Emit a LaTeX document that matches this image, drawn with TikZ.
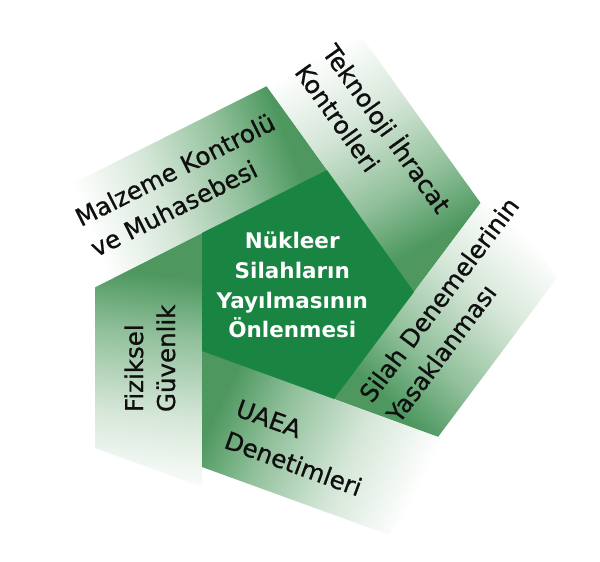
\documentclass[tikz,border=0pt]{standalone}
\usepackage{fontspec}
\setmainfont{DejaVu Sans}
\newfontfamily\bladefont[FakeBold=0.8]{DejaVu Sans}
\definecolor{pentg}{RGB}{26,133,66}
\definecolor{bladeg}{RGB}{78,152,96}
\definecolor{bladem}{RGB}{145,192,155}
\definecolor{bladel}{RGB}{212,230,215}
\definecolor{txt}{RGB}{15,15,15}
\pgfdeclarehorizontalshading{bladefade}{100bp}{color(0bp)=(bladeg); color(34bp)=(bladeg); color(44bp)=(bladem); color(57bp)=(bladel); color(70bp)=(white); color(100bp)=(white)}
\begin{document}
\begin{tikzpicture}[x=1pt,y=-1pt,
  bladetext/.style={font=\bladefont\fontsize{24.5}{30}\selectfont, text=txt, anchor=base west, inner sep=0pt, outer sep=0pt},
  ctrtext/.style={font=\bfseries\fontsize{21.5}{26}\selectfont, text=white, anchor=base, inner sep=0pt, outer sep=0pt},
  fadefill/.style={shading=bladefade}]
\useasboundingbox (0,0) rectangle (600,562);
\fill[white] (0,0) rectangle (600,562);
% pentagon vertices
\coordinate (V1) at (202,233);
\coordinate (V2) at (327,170);
\coordinate (V3) at (414,292);
\coordinate (V4) at (334,399);
\coordinate (V5) at (202,351);
\coordinate (C) at (296,289);
% blade corners
\coordinate (Fa) at (95,287);   \coordinate (Fb) at (202,487); \coordinate (Fc) at (95,448);
\coordinate (Ma) at (267,86);   \coordinate (Mb) at (60,190);  \coordinate (Mc) at (60,305);
\coordinate (Ta) at (480.6,203);\coordinate (Tb) at (351,22);  \coordinate (Tc) at (255,70);
\coordinate (Sa) at (438,437);  \coordinate (Sb) at (557,278); \coordinate (Sc) at (492.6,187);
\coordinate (Ua) at (202,467);  \coordinate (Ub) at (388.8,534.8); \coordinate (Uc) at (456.8,443.8);
% Fiziksel blade
\begin{scope}
\clip (Fa) -- (V1) -- (C) -- (V5) -- (Fb) -- (Fc) -- cycle;
\begin{scope}[transform canvas={shift={(148.5,260)},rotate=-96}]
\shade[fadefill] (-40,-220) rectangle (260,220);
\end{scope}
\end{scope}
% Malzeme blade
\begin{scope}
\clip (V2) -- (Ma) -- (Mb) -- (Mc) -- (V1) -- (C) -- cycle;
\begin{scope}[transform canvas={shift={(297,128)},rotate=-159.3}]
\shade[fadefill] (-40,-220) rectangle (260,220);
\end{scope}
\end{scope}
% Teknoloji blade
\begin{scope}
\clip (V3) -- (Ta) -- (Tb) -- (Tc) -- (V2) -- (C) -- cycle;
\begin{scope}[transform canvas={shift={(447.3,247.5)},rotate=119.5}]
\shade[fadefill] (-40,-220) rectangle (260,220);
\end{scope}
\end{scope}
% Silah blade
\begin{scope}
\clip (V4) -- (Sa) -- (Sb) -- (Sc) -- (V3) -- (C) -- cycle;
\begin{scope}[transform canvas={shift={(386,418)},rotate=47.2}]
\shade[fadefill] (-40,-220) rectangle (260,220);
\end{scope}
\end{scope}
% UAEA blade
\begin{scope}
\clip (V5) -- (Ua) -- (Ub) -- (Uc) -- (V4) -- (C) -- cycle;
\begin{scope}[transform canvas={shift={(202,409)},rotate=-26}]
\shade[fadefill] (-40,-220) rectangle (260,220);
\end{scope}
\end{scope}
% central pentagon
\fill[pentg] (V1) -- (V2) -- (V3) -- (V4) -- (V5) -- cycle;
% texts
\node[ctrtext] (c1) at (292.3,248) {Nükleer};
\node[ctrtext] (c2) at (292.3,278) {Silahların};
\node[ctrtext] (c3) at (292.3,308) {Yayılmasının};
\node[ctrtext] (c4) at (292.3,337) {Önlenmesi};
\node[bladetext, rotate=26.7] (m1) at (81,227) {Malzeme Kontrolü};
\node[bladetext, rotate=26.7] (m2) at (96.3,257.4) {ve Muhasebesi};
\node[bladetext, rotate=-54.5] (t1) at (321.5,52.5) {Teknoloji İhracat};
\node[bladetext, rotate=-54.5] (t2) at (293.8,72.3) {Kontrolleri};
\node[bladetext, rotate=53.2] (s1) at (372,404) {Silah Denemelerinin};
\node[bladetext, rotate=53.2] (s2) at (399.2,424.4) {Yasaklanması};
\node[bladetext, rotate=-20] (u1) at (234.5,415.5) {UAEA};
\node[bladetext, rotate=-20] (u2) at (222.9,447.5) {Denetimleri};
\node[bladetext, rotate=90] (f1) at (143,412) {Fiziksel};
\node[bladetext, rotate=90] (f2) at (175,412) {Güvenlik};
\end{tikzpicture}
\end{document}
